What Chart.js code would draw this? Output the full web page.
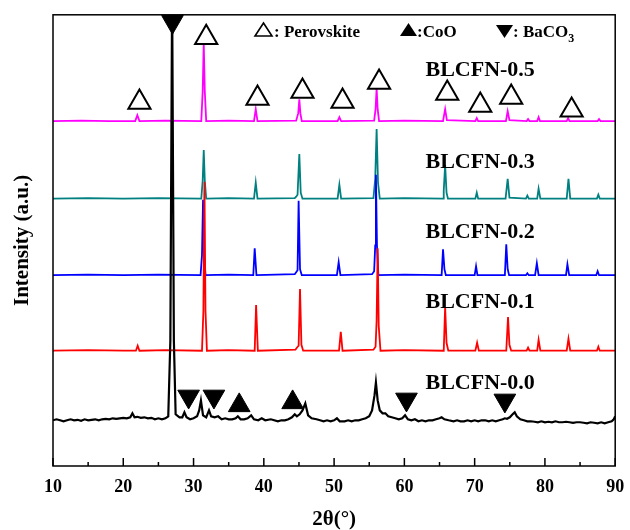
<!DOCTYPE html>
<html>
<head>
<meta charset="utf-8">
<script src="https://cdn.jsdelivr.net/npm/chart.js@4.4.0/dist/chart.umd.min.js"></script>
<style>
    body { margin: 0; background: #fff; }
    #wrap { width: 630px; height: 530px; }
</style>
</head>
<body>
<div id="wrap"><canvas id="xrdChart" width="630" height="530"></canvas></div>
<script>

// sample names, bottom to top
var sampleNames = ["BLCFN-0.0", "BLCFN-0.1", "BLCFN-0.2", "BLCFN-0.3", "BLCFN-0.5"];

// [2theta, intensity above own baseline]
var blcfn00 = [
    [10, 0], [10.5, 1], [11, 0], [11.5, -1], [12, 0], [12.5, 1], [13, 0], [13.5, 0.5], [14, -0.5], [14.5, 1], [15, 0],
    [15.5, 0.5], [16, 1], [16.5, 0], [17, 1], [17.5, 1.5], [18, 1], [18.5, 2], [19, 1.5], [19.5, 2], [20, 2.5], [20.5, 2],
    [21, 3], [21.3, 7], [21.6, 3], [22, 3.5], [22.5, 2.5], [23, 3], [23.5, 2], [24, 2.5], [24.5, 1], [25, 2], [25.5, 1],
    [26, 2], [26.4, 4], [26.7, 80], [26.95, 430], [27.2, 80], [27.45, 6], [28, 3], [28.4, 3], [28.7, 8], [29.0, 3],
    [29.5, 1], [30, 2], [30.5, 4], [30.8, 10], [31.05, 20], [31.35, 5], [31.8, 3], [32.2, 10], [32.5, 4], [33, 3],
    [33.5, 4], [34, 1], [34.5, 2], [35, 1], [35.5, 1], [36, 2], [36.3, 4], [36.7, 1], [37.2, 1], [37.7, 2], [38.2, 5],
    [38.6, 1], [39.2, 0], [39.7, 2], [40.2, 0], [41, 1], [42, -1], [42.5, 0], [43, 0], [43.5, 1], [44, 3], [44.4, 6],
    [44.7, 4], [45.1, 6], [45.5, 10], [45.9, 17], [46.3, 5], [46.8, 2], [47.5, 1], [48, 0], [48.5, -1], [49, 0],
    [49.5, -1], [50, 0], [50.4, 2], [50.8, -1], [51.5, -1], [52, 0], [52.5, -1], [53, 0], [53.5, 0], [54, 1], [54.5, 2],
    [55, 4], [55.4, 10], [55.75, 25], [55.95, 38], [56.2, 20], [56.5, 10], [56.9, 7], [57.3, 7], [57.7, 4], [58.2, 3],
    [58.7, 2], [59.2, 1], [59.7, 2], [60.1, 5], [60.5, 1], [61, 0], [61.5, 1], [62, -1], [62.5, 0], [63, -1], [63.5, 0],
    [64, 0], [64.5, 1], [65, 2], [65.3, 3], [65.7, 1], [66.3, 0], [67, -1], [67.5, 0], [68, -1], [68.5, -1], [69, 0],
    [69.5, -1], [70, 0], [70.5, -1], [71, 0], [71.5, 0], [72, -1], [72.5, 0], [73, -1], [73.5, 0], [74, 1], [74.3, 2],
    [74.6, 1.5], [75, 3], [75.4, 6], [75.7, 8], [76.0, 4], [76.5, 1], [77, 0], [77.5, -1], [78, -1], [78.5, -1.5],
    [79, -2], [79.5, -1], [80, -2], [80.5, -1.5], [81, -2], [81.5, -1], [82, -2], [82.5, -2], [83, -1.5], [83.5, -2],
    [84, -2.5], [84.5, -2], [85, -2], [85.5, -2.5], [86, -3], [86.5, -2], [87, -2.5], [87.5, -3], [88, -2], [88.5, -3],
    [89, -2], [89.5, -1], [89.8, 1], [90, 4]
];
var blcfn01 = [
    [10, 0], [15, 0.5], [20, 0], [21.8, 0], [22.05, 5], [22.3, 0], [26, 0.5], [31.2, 0], [31.4, 40], [31.55, 170],
    [31.7, 40], [31.9, 0], [35, 0.5], [38.7, 0], [38.9, 46], [39.15, 0], [44.5, 1], [44.7, 3], [44.95, 5], [45.15, 62],
    [45.35, 6], [45.6, 0], [50.7, 0], [50.95, 19], [51.2, 0], [55.6, 1], [55.9, 4], [56.05, 30], [56.2, 103], [56.35, 25],
    [56.6, 0], [60, 0.5], [65.6, 0], [65.8, 44], [66.0, 8], [66.25, 0], [70.1, 0], [70.35, 8], [70.6, 0], [74.5, 0],
    [74.75, 34], [74.95, 6], [75.2, 0], [77.4, 0], [77.6, 3], [77.8, 0], [78.9, 0], [79.1, 11], [79.35, 0], [83.1, 0],
    [83.35, 12], [83.6, 0], [87.4, 0], [87.6, 4], [87.8, 0], [90, 0]
];
var blcfn02 = [
    [10, 0], [15, 0.5], [20, 0], [25, 0.5], [31.0, 0], [31.2, 20], [31.35, 76], [31.5, 20], [31.7, 0], [35, 0.5],
    [38.5, 0], [38.7, 27], [38.95, 0], [44.4, 1], [44.6, 3], [44.8, 5], [44.95, 75], [45.15, 6], [45.4, 0], [50.4, 0],
    [50.65, 13], [50.9, 0], [55.4, 1], [55.7, 4], [55.85, 30], [55.95, 101], [56.1, 30], [56.3, 0], [60, 0.5], [65.3, 0],
    [65.5, 26], [65.7, 6], [65.9, 0], [70.0, 0], [70.2, 9], [70.4, 0], [74.3, 0], [74.5, 31], [74.7, 6], [74.9, 0],
    [77.3, 0], [77.5, 2], [77.7, 0], [78.6, 0], [78.85, 12], [79.1, 0], [83.0, 0], [83.2, 11], [83.45, 0], [87.3, 0],
    [87.5, 4], [87.7, 0], [90, 0]
];
var blcfn03 = [
    [10, 0], [15, 0.5], [20, 0], [25, 0.5], [31.1, 0], [31.3, 18], [31.45, 49], [31.6, 18], [31.8, 0], [35, 0.5],
    [38.6, 0], [38.85, 16], [39.1, 0], [44.4, 0.5], [44.6, 2], [44.8, 4], [45.05, 45], [45.25, 6], [45.5, 0], [50.5, 0],
    [50.75, 14], [51, 0], [55.6, 0.5], [55.85, 20], [56.05, 70], [56.25, 16], [56.5, 0], [60, 0.5], [65.5, 0], [65.6, 8],
    [65.8, 34], [66.0, 6], [66.2, 0], [70.1, 0], [70.3, 6], [70.5, 0], [74.4, 0], [74.7, 20], [74.95, 1], [77.3, 0],
    [77.5, 3], [77.7, 0], [78.9, 0], [79.1, 10], [79.35, 0], [83.1, 0], [83.35, 20], [83.6, 0], [87.4, 0], [87.6, 4],
    [87.8, 0], [90, 0]
];
var blcfn05 = [
    [10, 0], [14, 0.5], [18, 0], [21.7, 0], [22.0, 6], [22.3, 0], [26, 0.5], [31.1, 0], [31.3, 30], [31.45, 79],
    [31.6, 30], [31.8, 0], [35, 0.5], [38.6, 0], [38.85, 12], [39.1, 0], [44.6, 0.5], [44.9, 8], [45.05, 22], [45.2, 8],
    [45.4, 0], [50.5, 0], [50.75, 4], [51, 0], [55.7, 0.5], [55.9, 12], [56.05, 33], [56.2, 12], [56.4, 0], [60, 0.5],
    [65.5, 0], [65.8, 12], [66.05, 1], [70.1, 0], [70.3, 3], [70.5, 0], [74.45, 0], [74.7, 10], [74.95, 1], [77.4, 0],
    [77.6, 2], [77.8, 0], [78.9, 0], [79.1, 4], [79.3, 0], [83.1, 0], [83.3, 3], [83.5, 0], [87.5, 0], [87.7, 2],
    [87.9, 0], [90, 0]
];

// phase markers: 2theta and height on the plot's intensity scale
var perovskiteTheta = [22.3, 31.8, 39.1, 45.5, 51.2, 56.4, 66.1, 70.8, 75.2, 83.8];
var perovskiteY = [366, 431, 370, 377, 367, 386, 375, 363, 371, 358];
var cooTheta = [36.5, 44.1];
var cooY = [61, 64];
var baco3Theta = [27.0, 29.3, 32.9, 60.3, 74.3];
var baco3Y = [447, 70, 70, 67, 66];

var xTicks = [10, 20, 30, 40, 50, 60, 70, 80, 90];

var serif = '"Liberation Serif", "Times New Roman", serif';
var colors = ["#000000", "#ff0000", "#0000ff", "#008080", "#ff00ff"];
var offsets = [46, 116, 192, 269, 347];
var series = [blcfn00, blcfn01, blcfn02, blcfn03, blcfn05];

function toPoints(arr, off) {
    return arr.map(function (p) { return { x: p[0], y: p[1] + off }; });
}
function zipPoints(xs, ys) {
    return xs.map(function (t, i) { return { x: t, y: ys[i] }; });
}

var datasets = [
    {
        type: 'scatter', label: 'Perovskite', data: zipPoints(perovskiteTheta, perovskiteY),
        pointStyle: 'triangle', pointRadius: 12.8, pointBorderWidth: 2,
        pointBorderColor: '#000', pointBackgroundColor: '#fff', clip: false
    },
    {
        type: 'scatter', label: 'CoO', data: zipPoints(cooTheta, cooY),
        pointStyle: 'triangle', pointRadius: 12.5, pointBorderWidth: 1,
        pointBorderColor: '#000', pointBackgroundColor: '#000', clip: false
    },
    {
        type: 'scatter', label: 'BaCO3', data: zipPoints(baco3Theta, baco3Y),
        pointStyle: 'triangle', pointRotation: 180, pointRadius: 12.5, pointBorderWidth: 1,
        pointBorderColor: '#000', pointBackgroundColor: '#000', clip: false
    }
];
series.forEach(function (s, i) {
    datasets.push({
        label: sampleNames[i],
        data: toPoints(s, offsets[i]),
        borderColor: colors[i],
        borderWidth: i === 0 ? 2.2 : 1.8,
        pointRadius: 0,
        tension: 0
    });
});

// label positions (2theta, intensity scale)
var labelPos = [[63.0, 83], [63.0, 165], [63.0, 235], [63.0, 306], [63.0, 398]];

function tri(ctx, x0, x1, yTop, yBot, up, filled) {
    ctx.beginPath();
    if (up) {
        ctx.moveTo(x0, yBot); ctx.lineTo(x1, yBot); ctx.lineTo((x0 + x1) / 2, yTop);
    } else {
        ctx.moveTo(x0, yTop); ctx.lineTo(x1, yTop); ctx.lineTo((x0 + x1) / 2, yBot);
    }
    ctx.closePath();
    if (filled) { ctx.fill(); } else { ctx.stroke(); }
}

var decorations = {
    id: 'decorations',
    afterDatasetsDraw: function (chart) {
        var ctx = chart.ctx, a = chart.chartArea;
        var sx = chart.scales.x, sy = chart.scales.y;
        ctx.save();
        ctx.strokeStyle = '#000';
        ctx.fillStyle = '#000';
        ctx.lineWidth = 1.5;
        ctx.strokeRect(a.left, a.top, a.right - a.left, a.bottom - a.top);

        // inward ticks, minor every 5
        for (var v = 10; v <= 90; v += 5) {
            var px = sx.getPixelForValue(v);
            var len = v % 10 === 0 ? 8 : 4;
            ctx.beginPath();
            ctx.moveTo(px, a.bottom);
            ctx.lineTo(px, a.bottom - len);
            ctx.stroke();
        }

        // tick labels
        ctx.font = 'bold 18px ' + serif;
        ctx.textAlign = 'center';
        ctx.textBaseline = 'middle';
        xTicks.forEach(function (t) {
            ctx.fillText(String(t), sx.getPixelForValue(t), a.bottom + 21);
        });

        // sample names
        ctx.font = 'bold 22px ' + serif;
        ctx.textAlign = 'left';
        labelPos.forEach(function (p, i) {
            ctx.fillText(sampleNames[i], sx.getPixelForValue(p[0]), sy.getPixelForValue(p[1]));
        });

        // phase key at the top
        ctx.lineWidth = 1.6;
        tri(ctx, 255, 272, 23, 36, true, false);
        tri(ctx, 400, 417, 23, 36, true, true);
        tri(ctx, 496, 513, 25, 38, false, true);
        ctx.font = 'bold 17px ' + serif;
        ctx.textBaseline = 'alphabetic';
        ctx.fillText(': Perovskite', 274, 37);
        ctx.fillText(':CoO', 417, 37);
        ctx.fillText(': BaCO', 513, 37);
        var w = ctx.measureText(': BaCO').width;
        ctx.font = 'bold 12px ' + serif;
        ctx.fillText('3', 513 + w, 42);
        ctx.restore();
    }
};

var ctx = document.getElementById("xrdChart").getContext("2d");
new Chart(ctx, {
    type: 'line',
    data: { datasets: datasets },
    options: {
        responsive: false,
        animation: false,
        layout: { padding: { top: 12, right: 12, left: 0, bottom: 0 } },
        plugins: { legend: { display: false }, tooltip: { enabled: false } },
        scales: {
            x: {
                type: 'linear', min: 10, max: 90,
                afterFit: function (s) { s.height = 64; s.paddingLeft = 0; s.paddingRight = 0; },
                grid: { display: false, drawTicks: false },
                border: { display: false },
                ticks: { display: false },
                title: {
                    display: true, text: '2θ(°)', color: '#000',
                    font: { family: serif, weight: 'bold', size: 21, lineHeight: 1 },
                    padding: { top: 0, bottom: 0 }
                }
            },
            y: {
                min: 0, max: 454,
                afterFit: function (s) { s.width = 53; },
                ticks: { display: false },
                grid: { display: false, drawTicks: false },
                border: { display: false },
                title: {
                    display: true, text: 'Intensity (a.u.)', color: '#000',
                    font: { family: serif, weight: 'bold', size: 21, lineHeight: 1.2 },
                    padding: { top: 10, bottom: 0 }
                }
            }
        }
    },
    plugins: [decorations]
});
</script>
</body>
</html>
